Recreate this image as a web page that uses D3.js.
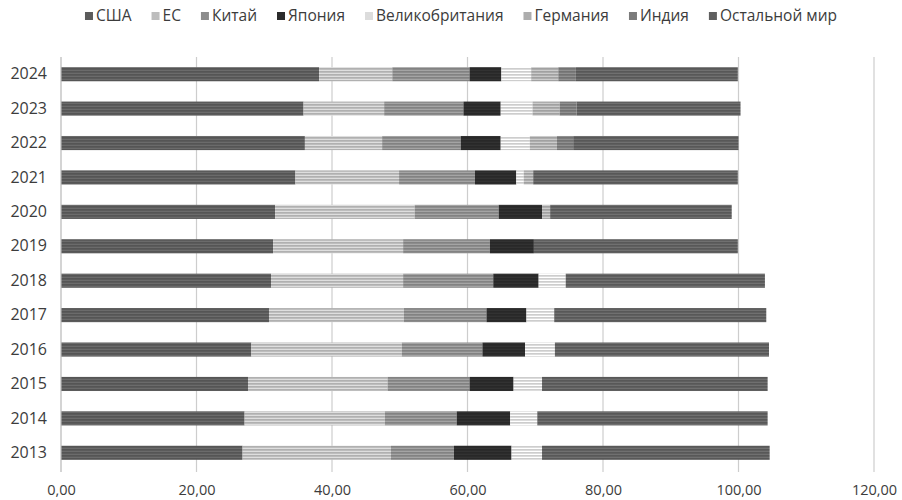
<!DOCTYPE html>
<html>
<head>
<meta charset="utf-8">
<script src="https://cdn.jsdelivr.net/npm/d3@7/dist/d3.min.js"></script>
<style>
  html, body { margin: 0; padding: 0; background: #fff; }
  svg { display: block; font-family: "Open Sans", "DejaVu Sans", sans-serif; }
</style>
</head>
<body>
<svg id="chart" width="902" height="500"></svg>
<script>
// Years shown on the category axis
const years = ["2013", "2014", "2015", "2016", "2017", "2018", "2019", "2020", "2021", "2022", "2023", "2024"];

// Series names, in stacking order
const seriesNames = ["США", "ЕС", "Китай", "Япония", "Великобритания", "Германия", "Индия", "Остальной мир"];

// Values per series, one per year (2013 … 2024)
const usa     = [26.8, 27.1, 27.6, 28.1, 30.7, 31.0, 31.3, 31.6, 34.6, 36.0, 35.8, 38.1];
const eu      = [21.9, 20.7, 20.6, 22.2, 19.9, 19.5, 19.2, 20.6, 15.3, 11.4, 11.9, 10.8];
const china   = [ 9.3, 10.6, 12.1, 11.9, 12.2, 13.3, 12.8, 12.4, 11.2, 11.6, 11.7, 11.4];
const japan   = [ 8.5,  7.9,  6.5,  6.3,  5.9,  6.7,  6.5,  6.4,  6.1,  5.9,  5.5,  4.7];
const uk      = [ 4.5,  4.0,  4.2,  4.4,  4.1,  4.0,  0.0,  0.0,  1.1,  4.3,  4.7,  4.4];
const germany = [ 0.0,  0.0,  0.0,  0.0,  0.0,  0.0,  0.0,  1.2,  1.4,  4.0,  4.0,  4.0];
const india   = [ 0.0,  0.0,  0.0,  0.0,  0.0,  0.0,  0.0,  0.0,  0.0,  2.4,  2.5,  2.6];
const rest    = [33.6, 34.0, 33.3, 31.6, 31.3, 29.4, 30.1, 26.8, 30.2, 24.4, 24.2, 23.9];

// X axis ticks
const xTicks = [0, 20, 40, 60, 80, 100, 120];

const seriesValues = [usa, eu, china, japan, uk, germany, india, rest];
const seriesColors = ["#5b5b5b", "#bdbdbd", "#8c8c8c", "#2b2b2b", "#dcdcdc", "#adadad", "#7b7b7b", "#5f5f5f"];

const rows = years.map((y, i) => {
  const r = { year: y };
  seriesNames.forEach((s, k) => { r[s] = seriesValues[k][i]; });
  return r;
});

const svg = d3.select("#chart");
const margin = { top: 57, right: 28, bottom: 30, left: 61 };

const x = d3.scaleLinear().domain([0, 120]).range([margin.left, 874]);
const y = d3.scaleBand().domain(years.slice().reverse()).range([margin.top, 470]).paddingInner(0.59).paddingOuter(0.295);

// Striped fills: each series gets a base colour with fine lighter lines
const defs = svg.append("defs");
seriesColors.forEach((c, k) => {
  const p = defs.append("pattern")
    .attr("id", "stripe" + k)
    .attr("patternUnits", "userSpaceOnUse")
    .attr("width", 6).attr("height", 3);
  p.append("rect").attr("width", 6).attr("height", 3).attr("fill", c);
  p.append("rect").attr("y", 1).attr("width", 6).attr("height", 1)
    .attr("fill", d3.color(c).brighter(0.45));
  p.append("rect").attr("y", 2).attr("width", 6).attr("height", 1)
    .attr("fill", d3.color(c).darker(0.2));
});

// Vertical gridlines
svg.append("g")
  .selectAll("line")
  .data(xTicks.slice(1))
  .join("line")
  .attr("x1", d => x(d)).attr("x2", d => x(d))
  .attr("y1", margin.top).attr("y2", 472)
  .attr("stroke", "#cdcdcd").attr("stroke-width", 1.2);

// Stacked bars
const stack = d3.stack().keys(seriesNames);
const layers = stack(rows);

svg.append("g")
  .selectAll("g")
  .data(layers)
  .join("g")
  .attr("fill", (d, k) => `url(#stripe${k})`)
  .selectAll("rect")
  .data(d => d.filter(v => v[1] - v[0] > 0))
  .join("rect")
  .attr("x", d => x(d[0]))
  .attr("width", d => x(d[1]) - x(d[0]))
  .attr("y", d => y(d.data.year))
  .attr("height", y.bandwidth());

// Left axis line
svg.append("line")
  .attr("x1", x(0)).attr("x2", x(0))
  .attr("y1", margin.top).attr("y2", 472)
  .attr("stroke", "#b8b8b8").attr("stroke-width", 1.2);

// Year labels
const yAxis = d3.axisLeft(y).tickSize(0).tickPadding(14);
const gy = svg.append("g").attr("transform", `translate(${x(0)},0)`).call(yAxis);
gy.select(".domain").remove();
gy.selectAll("text").attr("font-size", 16).attr("fill", "#3c3c3c")
  .style("font-family", "'Open Sans', sans-serif");

// Value labels on the bottom
const fmt = d => d3.format(".2f")(d).replace(".", ",");
const xAxis = d3.axisBottom(x).tickValues(xTicks).tickFormat(fmt).tickSize(0).tickPadding(0);
const gx = svg.append("g").attr("transform", `translate(0,485)`).call(xAxis);
gx.select(".domain").remove();
gx.selectAll("text").attr("font-size", 14.5).attr("fill", "#3c3c3c")
  .style("font-family", "'Open Sans', sans-serif");

// Legend
const legend = svg.append("g").attr("transform", "translate(0,21)");
const items = legend.selectAll("g").data(seriesNames).join("g");
items.append("rect")
  .attr("width", 8).attr("height", 8).attr("y", -9)
  .attr("fill", (d, k) => seriesColors[k]);
items.append("text")
  .attr("x", 11).attr("y", 0)
  .attr("font-size", 15.5).attr("fill", "#3c3c3c")
  .text(d => d);
const gap = 20;
const widths = [];
items.each(function () { widths.push(this.querySelector("text").getComputedTextLength() + 11); });
const total = d3.sum(widths) + gap * (widths.length - 1);
let cx = 461 - total / 2;
items.attr("transform", (d, k) => {
  const t = `translate(${cx},0)`;
  cx += widths[k] + gap;
  return t;
});
</script>
</body>
</html>
